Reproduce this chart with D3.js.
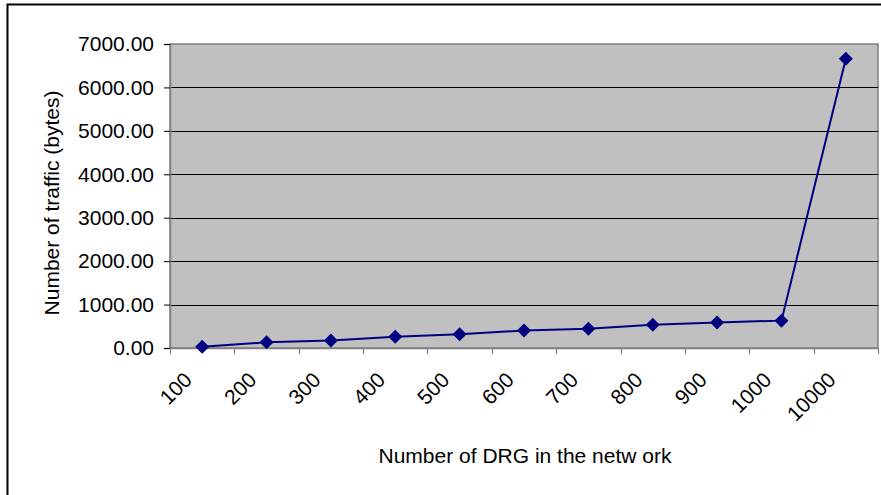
<!DOCTYPE html>
<html>
<head>
<meta charset="utf-8">
<script src="https://cdn.jsdelivr.net/npm/d3@7"></script>
<style>
  html, body { margin: 0; padding: 0; background: #fff; }
  svg { display: block; font-family: Arial, "Liberation Sans", sans-serif; }
  svg text { font-family: Arial, "Liberation Sans", sans-serif; font-size: 21px; fill: #000; }
</style>
</head>
<body>
<svg id="chart" width="881" height="495"></svg>
<script>
// DRG counts along the category axis
const categories = ["100", "200", "300", "400", "500", "600", "700", "800", "900", "1000", "10000"];
// Traffic volume (bytes) for each DRG count
const traffic = [30, 130, 170, 260, 315, 405, 445, 535, 590, 630, 6660];
// Value axis ticks
const yTicks = [0, 1000, 2000, 3000, 4000, 5000, 6000, 7000];

const svg = d3.select("#chart");
const plot = { left: 170, top: 44, right: 878, bottom: 348 };

// Outer chart frame (only left and top edges fall inside the window)
svg.append("rect")
  .attr("x", 7.5).attr("y", 4.5)
  .attr("width", 900).attr("height", 520)
  .attr("fill", "#fff").attr("stroke", "#000").attr("stroke-width", 2);

const x = d3.scaleBand().domain(categories).range([plot.left, plot.right]).padding(0);
const y = d3.scaleLinear().domain([0, 7000]).range([plot.bottom, plot.top]);

// Plot area background
svg.append("rect")
  .attr("x", plot.left).attr("y", plot.top)
  .attr("width", plot.right - plot.left).attr("height", plot.bottom - plot.top)
  .attr("fill", "#c0c0c0").attr("stroke", "#808080").attr("stroke-width", 1.5);

// Horizontal gridlines
svg.append("g")
  .selectAll("line")
  .data(yTicks.filter(d => d > 0 && d < 7000))
  .join("line")
  .attr("x1", plot.left).attr("x2", plot.right)
  .attr("y1", d => Math.round(y(d)) + 0.5).attr("y2", d => Math.round(y(d)) + 0.5)
  .attr("stroke", "#000").attr("stroke-width", 1);

// Y axis
const yAxis = svg.append("g")
  .attr("transform", `translate(${plot.left},0)`)
  .call(d3.axisLeft(y).tickValues(yTicks).tickFormat(d3.format(".2f")).tickSize(6).tickPadding(10));
yAxis.attr("font-size", null).attr("font-family", null);
yAxis.select(".domain").attr("stroke", "#808080").attr("stroke-width", 1.5);
yAxis.selectAll(".tick line").attr("stroke", "#000");
yAxis.selectAll(".tick text").style("font-size", "21px").attr("fill", "#000");

// X axis with ticks on band boundaries
const xAxisG = svg.append("g").attr("transform", `translate(0,${plot.bottom})`);
xAxisG.append("line")
  .attr("x1", plot.left).attr("x2", plot.right + 1)
  .attr("y1", 0.5).attr("y2", 0.5)
  .attr("stroke", "#808080").attr("stroke-width", 1.5);
const boundaries = categories.map(c => x(c)).concat([x(categories[categories.length - 1]) + x.bandwidth()]);
xAxisG.selectAll("line.tk")
  .data(boundaries)
  .join("line").attr("class", "tk")
  .attr("x1", d => Math.round(d) + 0.5).attr("x2", d => Math.round(d) + 0.5)
  .attr("y1", 0).attr("y2", 6)
  .attr("stroke", "#808080").attr("stroke-width", 1.2);
xAxisG.selectAll("text")
  .data(categories)
  .join("text")
  .attr("transform", d => `translate(${x(d) + x.bandwidth() / 2 - 14},${28}) rotate(-45)`)
  .attr("text-anchor", "end")
  .attr("dy", "0.35em")
  .style("font-size", "21px")
  .text(d => d);

// Series line
const line = d3.line()
  .x((d, i) => x(categories[i]) + x.bandwidth() / 2)
  .y(d => y(d));
svg.append("path")
  .datum(traffic)
  .attr("d", line)
  .attr("fill", "none")
  .attr("stroke", "#000080")
  .attr("stroke-width", 2);

// Diamond markers
svg.append("g")
  .selectAll("path")
  .data(traffic)
  .join("path")
  .attr("transform", (d, i) => `translate(${x(categories[i]) + x.bandwidth() / 2},${y(d)})`)
  .attr("d", "M0,-7L7,0L0,7L-7,0Z")
  .attr("fill", "#000080");

// Axis titles
svg.append("text")
  .attr("x", 525).attr("y", 463)
  .attr("text-anchor", "middle")
  .style("font-size", "21px")
  .text("Number of DRG in the netw ork");

svg.append("text")
  .attr("transform", "translate(59,203) rotate(-90)")
  .attr("text-anchor", "middle")
  .style("font-size", "21px")
  .text("Number of traffic (bytes)");
</script>
</body>
</html>
